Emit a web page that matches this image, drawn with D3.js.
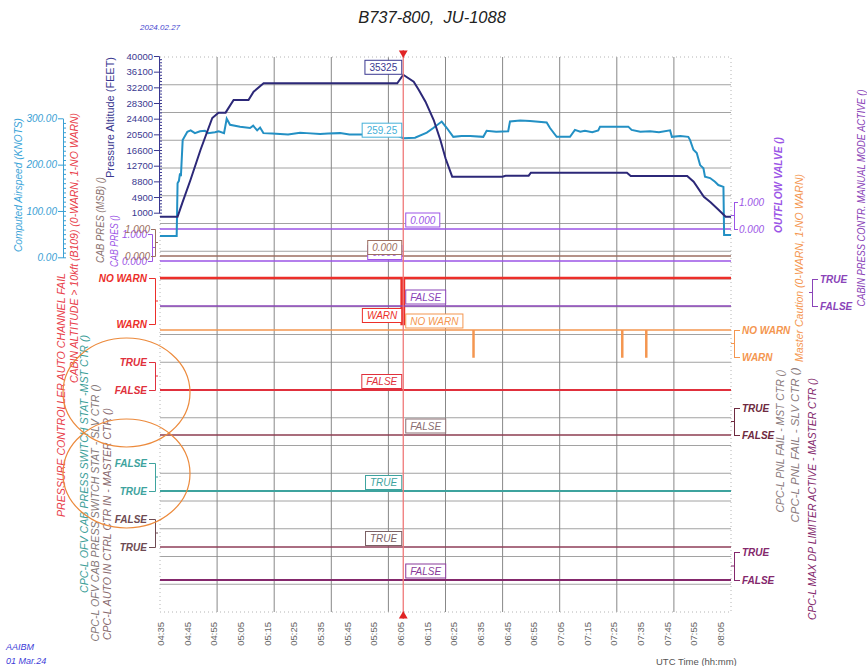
<!DOCTYPE html>
<html>
<head>
<meta charset="utf-8">
<script src="https://cdn.jsdelivr.net/npm/d3@7"></script>
<style>
body { margin: 0; background: #fff; }
svg { font-family: "Liberation Sans", Arial, sans-serif; }
</style>
</head>
<body>
<svg id="chart" width="867" height="666"></svg>
<script>
// ---- data ----
const timeStart = "04:35", timeEnd = "08:09";
const timeTicks = ["04:35","04:45","04:55","05:05","05:15","05:25","05:35","05:45","05:55","06:05","06:15",
                   "06:25","06:35","06:45","06:55","07:05","07:15","07:25","07:35","07:45","07:55","08:05"];
const cursorTime = "06:06:10";

const altTicks = [40000, 36100, 32200, 28300, 24400, 20500, 16600, 12700, 8800, 4900, 1000];
const altTime = ["04:35","04:41:35","04:43:20","04:46:25","04:50:10","04:54:35","04:56:55","04:59:35","05:02:35",
                 "05:08:10","05:10:05","05:13:50","06:03:55","06:06:10","06:10:05","06:12:00","06:14:30","06:17:35",
                 "06:20:05","06:22:00","06:24:30","06:43:20","06:44:30","06:53:10","06:54:00","07:30:00","07:31:25",
                 "07:52:35","07:55:00","07:58:50","08:01:20","08:04:25","08:07:00","08:09"];
const altFeet = [0, 0, 3400, 9140, 16600, 24570, 25890, 25900, 29050,
                 29050, 31120, 33200, 33200, 35325, 33600, 31540, 28630, 24070,
                 19090, 14540, 9960, 9960, 10210, 10210, 10960, 10960, 10130,
                 10130, 8720, 4980, 3590, 1670, 0, 0];
const cursorAlt = 35325;

const iasTicks = [0, 100, 200, 300];
const iasTime = ["04:35","04:41:15","04:41:35","04:42:05","04:42:30","04:42:50","04:43:30","04:45:15","04:46:30",
                 "04:48:05","04:50:00","04:51:50","04:53:00","04:55:35","04:57:00","04:59:00","05:00:00","05:01:15",
                 "05:05:00","05:08:45","05:09:55","05:11:25","05:12:30","05:13:45","05:17:00","05:20:00","05:23:00",
                 "05:27:30","05:30:00","05:35:00","05:38:00","05:42:30","05:46:00","05:51:05","05:55:00","06:00:00",
                 "06:03:45","06:06:10","06:10:35","06:15:00","06:17:25","06:20:35","06:22:30","06:24:55","06:28:00",
                 "06:31:15","06:36:10","06:37:25","06:41:00","06:45:30","06:46:10","06:50:00","06:53:40","06:59:55",
                 "07:01:10","07:03:40","07:08:40","07:10:30","07:12:30","07:14:15","07:17:00","07:19:15","07:19:55",
                 "07:30:30","07:31:45","07:35:00","07:38:40","07:42:00","07:46:10","07:46:50","07:50:00","07:53:00",
                 "07:53:40","07:54:55","07:56:10","07:57:25","07:58:40","07:59:15","08:01:10","08:03:00","08:04:15",
                 "08:06:10","08:06:25","08:09"];
const iasKts = [46, 46, 160, 165, 181, 175, 253, 271, 274,
                268, 272, 273, 268, 270, 272, 268, 299, 286,
                282, 279, 284, 274, 280, 268, 267, 266, 265,
                269, 268, 266, 267, 268, 265, 265, 266, 264,
                263, 257, 258, 269, 279, 293, 279, 260, 262,
                262, 260, 273, 271, 272, 293, 295, 294, 291,
                279, 260, 260, 275, 271, 273, 270, 274, 282,
                282, 275, 271, 272, 270, 274, 260, 262, 260,
                253, 232, 225, 199, 192, 174, 171, 163, 156,
                152, 48, 48];
const cursorIas = 259.25;

// discrete parameters
const spanTime = ["04:35", "08:09"];
const outflowValve = [0, 0];
const cabPresMsb = [0, 0];
const cabPres = [0, 0];
const cabAltTime = ["04:35", "06:05:35", "06:06:25", "08:09"];
const cabAltWarn = [1, 0, 1, 1];
const manualMode = [0, 0];
const cautionTime = ["04:35","06:32:20","06:32:40","07:28:05","07:28:25","07:37:05","07:37:25","08:09"];
const cautionVal = [1, 0, 1, 0, 1, 0, 1, 1];
const pressCtrlFail = [0, 0];
const pnlFail = [0, 0];
const ofvSwitchMst = [1, 1];
const autoInCtrl = [1, 1];
const maxDpLimiter = [0, 0];

// ---- drawing ----
const svg = d3.select("#chart");
const plot = {left: 160, right: 731, top: 57, bottom: 612};
const parseT = s => { const p = s.split(":").map(Number); return new Date(2024, 1, 27, p[0], p[1], p[2] || 0); };
const x = d3.scaleTime().domain([parseT(timeStart), parseT(timeEnd)]).range([plot.left, plot.right]);
const cx = x(parseT(cursorTime));

// grid
const grid = svg.append("g");
d3.range(1, 20).forEach(i => {
    const yy = plot.top + i * (plot.bottom - plot.top) / 20;
    grid.append("line").attr("x1", plot.left).attr("x2", plot.right).attr("y1", yy).attr("y2", yy)
        .attr("stroke", "#a2a2a2").attr("stroke-width", 1);
});
d3.range(1, 10).forEach(i => {
    const xx = plot.left + i * (plot.right - plot.left) / 10;
    grid.append("line").attr("x1", xx).attr("x2", xx).attr("y1", plot.top).attr("y2", plot.bottom)
        .attr("stroke", "#888").attr("stroke-width", 1);
});
grid.append("rect").attr("x", plot.left).attr("y", plot.top)
    .attr("width", plot.right - plot.left).attr("height", plot.bottom - plot.top)
    .attr("fill", "none").attr("stroke", "#b4b4b4").attr("stroke-dasharray", "1,3");

// time axis
const xAxis = svg.append("g").attr("transform", "translate(0," + plot.bottom + ")")
    .call(d3.axisBottom(x).tickValues(timeTicks.map(parseT)).tickFormat(d3.timeFormat("%H:%M")).tickSize(0));
xAxis.select(".domain").remove();
xAxis.selectAll("text").attr("transform", "rotate(-90)").attr("x", -10).attr("y", 0).attr("dy", "0.35em")
    .style("text-anchor", "end").attr("fill", "#666").attr("font-size", 9.5);

// discrete signals
function discrete(times, vals, y, color, width) {
    const pts = times.map((t, i) => [parseT(t), vals[i]]);
    svg.append("path").datum(pts)
        .attr("d", d3.line().x(d => x(d[0])).y(d => y(d[1])).curve(d3.curveStepAfter))
        .attr("fill", "none").attr("stroke", color).attr("stroke-width", width);
}
function bracket(ax, side, y, labels, color, numeric) {
    const axis = (side === "left" ? d3.axisLeft(y) : d3.axisRight(y))
        .tickValues([0, 1]).tickFormat(d => labels[d])
        .tickSize(numeric ? 4 : 6).tickPadding(numeric ? 1 : 2);
    const g = svg.append("g").attr("transform", "translate(" + ax + ",0)").call(axis);
    g.selectAll("path,line").attr("stroke", color);
    g.selectAll("text").attr("fill", color).attr("font-size", 10)
        .attr("font-style", "italic").attr("font-weight", numeric ? "normal" : "bold");
    const mid = (y(0) + y(1)) / 2;
    g.append("line").attr("x1", 0).attr("x2", side === "left" ? 3 : -3).attr("y1", mid).attr("y2", mid).attr("stroke", color);
    return g;
}
function valueAt(times, vals) {
    const ts = times.map(parseT);
    const i = d3.bisectRight(ts, parseT(cursorTime)) - 1;
    return vals[Math.max(0, i)];
}
function valueBox(text, yBottom, side, color, italic) {
    const g = svg.append("g");
    const t = g.append("text").attr("font-size", 10).attr("font-style", italic ? "italic" : "normal")
        .attr("fill", color).text(text);
    const w = t.node().getComputedTextLength() + 9;
    const bx = side === "left" ? cx - 1.5 - w : cx + 2.5;
    g.insert("rect", "text").attr("x", bx).attr("y", yBottom - 14).attr("width", w).attr("height", 14)
        .attr("fill", "#fff").attr("stroke", color).attr("stroke-width", 1);
    t.attr("x", bx + 4.5).attr("y", yBottom - 3.5);
}

const num3 = ["0.000", "1.000"];
const tf = ["FALSE", "TRUE"];
const warn = ["WARN", "NO WARN"];
// order matters: CAB PRES box sits behind the CAB PRES (MSB) box
const signals = [
    {times: spanTime, vals: outflowValve, y: [229, 202], color: "#9b55e6", w: 1.6, side: "right", ax: 734, labels: num3, numeric: true},
    {times: spanTime, vals: cabPres, y: [261, 234], color: "#9b55e6", w: 1.6, side: "left", ax: 152, labels: num3, numeric: true, boxDrop: 4},
    {times: spanTime, vals: cabPresMsb, y: [256, 229], color: "#9c6e60", w: 1.4, side: "left", ax: 155, labels: num3, numeric: true},
    {times: cabAltTime, vals: cabAltWarn, y: [324, 278], color: "#ec2f2a", w: 2.6, side: "left", ax: 155, labels: warn},
    {times: spanTime, vals: manualMode, y: [306, 279], color: "#8a44b8", w: 1.6, side: "right", ax: 812, labels: tf},
    {times: cautionTime, vals: cautionVal, y: [357, 330], color: "#f49650", w: 1.6, side: "right", ax: 734, labels: warn},
    {times: spanTime, vals: pressCtrlFail, y: [390, 362], color: "#e0303c", w: 2.2, side: "left", ax: 155, labels: tf},
    {times: spanTime, vals: pnlFail, y: [435, 408], color: "#8c3c50", w: 1.6, side: "right", ax: 734, labels: tf, boxColor: "#8a6e72", axColor: "#6e2a40"},
    {times: spanTime, vals: ofvSwitchMst, y: [463, 491], color: "#3ea39e", w: 2, side: "left", ax: 155, labels: tf},
    {times: spanTime, vals: autoInCtrl, y: [519, 547], color: "#8e3e58", w: 1.6, side: "left", ax: 155, labels: tf, boxColor: "#7a6064", axColor: "#6e4a52"},
    {times: spanTime, vals: maxDpLimiter, y: [580, 552], color: "#84286c", w: 2, side: "right", ax: 734, labels: tf, boxColor: "#8a3a9a"}
];

signals.forEach(s => {
    s.scale = d3.scaleLinear().domain([0, 1]).range(s.y);
    discrete(s.times, s.vals, s.scale, s.color, s.w);
    bracket(s.ax, s.side, s.scale, s.labels, s.axColor || s.color, s.numeric);
});

// pressure altitude
const yAlt = d3.scaleLinear().domain([1000, 40000]).range([212.7, 56]);
const altAxis = svg.append("g").attr("transform", "translate(159,0)")
    .call(d3.axisLeft(yAlt).tickValues(altTicks).tickFormat(d3.format("d")).tickSize(5).tickPadding(1).tickSizeOuter(0));
altAxis.selectAll("path,line").attr("stroke", "#3a3890");
altAxis.selectAll("text").attr("fill", "#3a3890").attr("font-size", 9.5);
svg.append("g").attr("transform", "translate(159,0)")
    .call(d3.axisRight(yAlt).tickValues(d3.range(1000, 40000, 780)).tickFormat("").tickSize(3).tickSizeOuter(0))
    .selectAll("path,line").attr("stroke", "#3a3890");

// airspeed
const yIas = d3.scaleLinear().domain([0, 300]).range([257.3, 118.3]);
const iasAxis = svg.append("g").attr("transform", "translate(63,0)")
    .call(d3.axisLeft(yIas).tickValues(iasTicks).tickFormat(d3.format(".2f")).tickSize(5).tickPadding(1).tickSizeOuter(0));
iasAxis.selectAll("path,line").attr("stroke", "#3aa0d4");
iasAxis.selectAll("text").attr("fill", "#3aa0d4").attr("font-size", 10).attr("font-style", "italic");
svg.append("g").attr("transform", "translate(63,0)")
    .call(d3.axisRight(yIas).tickValues(d3.range(0, 300, 10)).tickFormat("").tickSize(3).tickSizeOuter(0))
    .selectAll("path,line").attr("stroke", "#3aa0d4");

const iasPts = iasTime.map((t, i) => [parseT(t), iasKts[i]]);
svg.append("path").datum(iasPts)
    .attr("d", d3.line().x(d => x(d[0])).y(d => yIas(d[1])))
    .attr("fill", "none").attr("stroke", "#2390c4").attr("stroke-width", 2);

const altPts = altTime.map((t, i) => [parseT(t), altFeet[i]]);
svg.append("path").datum(altPts)
    .attr("d", d3.line().x(d => x(d[0])).y(d => yAlt(d[1])))
    .attr("fill", "none").attr("stroke", "#2c2878").attr("stroke-width", 2);

// cursor
svg.append("line").attr("x1", cx).attr("x2", cx).attr("y1", 50).attr("y2", 619)
    .attr("stroke", "#f07878").attr("stroke-width", 1.3);
svg.append("path").attr("d", d3.symbol(d3.symbolTriangle, 34)()).attr("transform", "translate(" + cx + ",53) rotate(180)").attr("fill", "#e02424");
svg.append("path").attr("d", d3.symbol(d3.symbolTriangle, 34)()).attr("transform", "translate(" + cx + ",616)").attr("fill", "#e02424");

// cursor readouts
valueBox(d3.format("d")(cursorAlt), yAlt(cursorAlt) - 0.5, "left", "#3a3890", false);
valueBox(d3.format(".2f")(cursorIas), yIas(cursorIas), "left", "#45b0d8", false);
signals.forEach(s => {
    const v = valueAt(s.times, s.vals);
    const side = s.side === "right" ? "right" : "left";
    const yb = s.scale(v) - (side === "right" ? 2 : 1.5) - (s.boxDrop ? 0 : 0);
    valueBox(s.labels[v], s.boxDrop ? yb : yb, side, s.boxColor || s.color, !s.numeric || true);
});

// rotated axis titles
const titles = [
    {t: "Computed Airspeed (KNOTS)", x: 18, y: 185, len: 134, c: "#3aa4d8"},
    {t: "PRESSURE CONTROLLER AUTO CHANNEL FAIL", x: 61, y: 395, len: 244, c: "#e8404a"},
    {t: "CABIN ALTITUDE > 10kft (B109) (0-WARN, 1-NO WARN)", x: 74, y: 248, len: 270, c: "#e8404a"},
    {t: "CPC-L OFV CAB PRESS SWITCH STAT -MST CTR ()", x: 84, y: 464, len: 258, c: "#3a9e98"},
    {t: "CPC-L OFV CAB PRESS SWITCH STAT - SLV CTR ()", x: 95, y: 513, len: 257, c: "#857878"},
    {t: "CPC-L AUTO IN CTRL CTR IN - MASTER CTR ()", x: 107, y: 524, len: 232, c: "#8a6a6e"},
    {t: "CAB PRES (MSB) ()", x: 100, y: 220, len: 86, c: "#8a7270"},
    {t: "CAB PRES ()", x: 114, y: 241, len: 52, c: "#9b55e6"},
    {t: "Pressure Altitude (FEET)", x: 110.5, y: 117.5, len: 121, c: "#3a3890", upright: true},
    {t: "OUTFLOW VALVE ()", x: 778, y: 185, len: 96, c: "#9b55e6", bold: true},
    {t: "Master Caution (0-WARN, 1-NO WARN)", x: 799, y: 268, len: 188, c: "#f49650"},
    {t: "CABIN PRESS CONTR. MANUAL MODE ACTIVE ()", x: 861, y: 198, len: 217, c: "#8a44b8"},
    {t: "CPC-L PNL FAIL - MST CTR ()", x: 780.5, y: 441, len: 143, c: "#8a7a7c"},
    {t: "CPC-L PNL FAIL - SLV CTR ()", x: 795.5, y: 445, len: 155, c: "#8a7a7c"},
    {t: "CPC-L MAX DP LIMITER ACTIVE - MASTER CTR ()", x: 812.5, y: 499, len: 242, c: "#84286c"}
];
titles.forEach(d => {
    svg.append("text").attr("transform", "translate(" + d.x + "," + d.y + ") rotate(-90)")
        .attr("text-anchor", "middle").attr("dy", "0.35em")
        .attr("font-size", 10).attr("font-style", d.upright ? "normal" : "italic")
        .attr("font-weight", d.bold ? "bold" : "normal")
        .attr("textLength", d.len).attr("lengthAdjust", "spacingAndGlyphs")
        .attr("fill", d.c).text(d.t);
});

// annotations
[[126.5, 392.5], [126.5, 473.5]].forEach(c => {
    svg.append("ellipse").attr("cx", c[0]).attr("cy", c[1]).attr("rx", 63.5).attr("ry", 54.5)
        .attr("fill", "none").attr("stroke", "#ec8a3c").attr("stroke-width", 1.2);
});

// headings and footers
svg.append("text").attr("x", 432).attr("y", 23).attr("text-anchor", "middle")
    .attr("font-size", 16.5).attr("font-style", "italic").attr("fill", "#222")
    .style("white-space", "pre").text("B737-800,  JU-1088");
svg.append("text").attr("x", 140).attr("y", 30).attr("font-size", 8).attr("font-style", "italic")
    .attr("fill", "#4646d0").text("2024.02.27");
svg.append("text").attr("x", 6).attr("y", 650).attr("font-size", 9).attr("font-style", "italic")
    .attr("fill", "#3c3cd8").text("AAIBM");
svg.append("text").attr("x", 6).attr("y", 664).attr("font-size", 9).attr("font-style", "italic")
    .attr("fill", "#3c3cd8").text("01 Mar.24");
svg.append("text").attr("x", 656).attr("y", 665).attr("font-size", 9.5)
    .attr("fill", "#555").text("UTC Time (hh:mm)");
</script>
</body>
</html>
